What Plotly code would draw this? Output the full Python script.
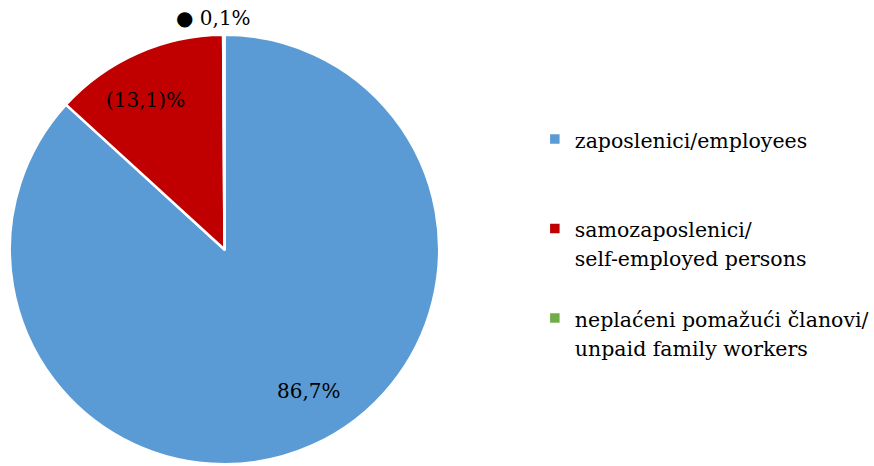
import plotly.graph_objects as go

categories = ["zaposlenici/employees",
              "samozaposlenici/<br>self-employed persons",
              "neplaćeni pomažući članovi/<br>unpaid family workers"]
values = [86.7, 13.1, 0.1]
value_labels = ["86,7%", "(13,1)%", "0,1%"]
colors = ["#5B9BD5", "#C00000", "#70AD47"]

# extra blank lines reproduce the vertical spacing between legend entries
padding = ["<br> <br> ", "<br> ", ""]
legend_names = ['<span style="font-size:20.5px">' + c + '</span>' + p
                for c, p in zip(categories, padding)]

FONT = "DejaVu Serif"

fig = go.Figure(go.Pie(
    labels=legend_names,
    values=values,
    sort=False,
    direction="clockwise",
    rotation=0,
    marker=dict(colors=colors, line=dict(color="white", width=2.5)),
    textinfo="none",
    hoverinfo="percent",
    domain=dict(x=[10/874, 450/874], y=[0, 1 - 33/466]),
))

ann_pos = [(0.362, 0.160), (0.170, 0.785), (0.250, 0.961)]
anns = []
for i, (x, y) in enumerate(ann_pos):
    txt = value_labels[i] if i < 2 else "● " + value_labels[i]
    anns.append(dict(x=x, y=y, xref="paper", yref="paper", text=txt,
                     xanchor="center", yanchor="middle",
                     showarrow=False, font=dict(family=FONT, size=20, color="black")))

fig.update_layout(
    width=874, height=466,
    margin=dict(l=0, r=0, t=0, b=0),
    paper_bgcolor="white",
    plot_bgcolor="white",
    annotations=anns,
    legend=dict(x=548/874, y=1 - 118/466, xanchor="left", yanchor="top",
                valign="top", font=dict(family=FONT, size=22.2, color="black"),
                itemwidth=30),
)

fig.write_html("out.html", config={"displayModeBar": False},
               post_script="document.body.style.margin='0';")
